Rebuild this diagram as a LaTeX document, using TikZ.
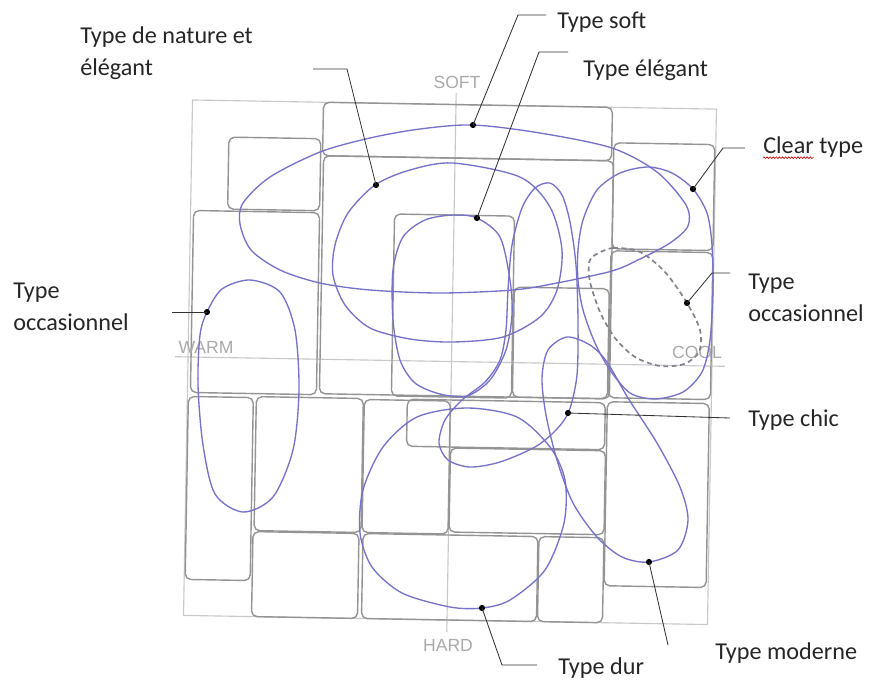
\documentclass[tikz,border=0pt]{standalone}
\usepackage{fontspec}
\setmainfont{Carlito}
\newfontfamily\axisfont{Liberation Sans}
\usetikzlibrary{decorations.pathmorphing}
\definecolor{loopblue}{RGB}{118,114,200}
\definecolor{tilegrey}{RGB}{148,148,148}
\definecolor{framegrey}{RGB}{200,200,200}
\definecolor{axistext}{RGB}{170,170,170}
\definecolor{dashgrey}{RGB}{130,130,142}

\begin{document}
\begin{tikzpicture}[x=0.025cm,y=-0.025cm,
  tile/.style={draw=tilegrey,line width=1pt,rounded corners=4pt},
  bluecurve/.style={draw=loopblue,line width=0.95pt},
  leader/.style={draw=black!80,line width=0.6pt},
  lab/.style={anchor=west,inner sep=0pt,align=left,text=black!85,
    font=\fontsize{17.2}{23}\selectfont},
  axislab/.style={inner sep=0pt,text=axistext,font=\axisfont\fontsize{12.5}{14}\selectfont}]
  \useasboundingbox[fill=white] (0,0) rectangle (871,680);

  % scanned grid, slightly turned
  \begin{scope}[rotate around={-1:(450,362)}]
    \draw[framegrey,line width=0.8pt] (188,104.5) rectangle (712,620);
    \draw[framegrey,line width=0.8pt] (451.5,93) -- (451.5,632);
    \draw[framegrey,line width=0.8pt] (175,361.5) -- (725,361.5);
    \foreach \xa/\ya/\xb/\yb in {319/104.5/608/158, 225/141/317/213, 191/215/317/397,
        320/158/610/396, 392/215/512/397, 513/286/608/396, 610/140/711/246,
        609/248/711/395, 608/399/710/583, 408/400/606/447, 452/448/607/532,
        365/401/451/534, 257/400/364/534, 189/401/254/584, 256/535/362/620,
        366/535/541/620, 542/535/607/620}
      \draw[tile] (\xa,\ya) rectangle (\xb,\yb);
  \end{scope}

  % axis words
  \node[axislab] (soft) at (457,82) {SOFT};
  \node[axislab] (hard) at (448,645) {HARD};
  \node[axislab] (warm) at (206,347) {WARM};
  \node[axislab] (cool) at (697,352) {COOL};

  % big flat loop (soft)
  \draw[bluecurve] plot[smooth cycle] coordinates {(473,125) (540,133) (612,148)
    (657,172) (686,205) (688,226) (670,243) (640,259) (612,271) (557,283) (513,290)
    (440,293) (370,290) (320,283) (280,270) (251,250) (240,224) (243,203) (270,177)
    (320,152) (370,138) (420,129)};
  % nature et elegant
  \draw[bluecurve] plot[smooth cycle] coordinates {(375,185) (410,170) (453,163)
    (520,177) (550,207) (562,250) (557,290) (540,317) (503,337) (453,342) (410,339)
    (370,328) (345,305) (333,275) (335,245) (348,213)};
  % elegant
  \draw[bluecurve] plot[smooth cycle] coordinates {(453,215) (477,218) (500,237)
    (510,280) (512,315) (506,350) (490,380) (467,396) (440,394) (415,383) (400,360)
    (393,320) (393,270) (403,237) (425,220)};
  % occasionnel, left
  \draw[bluecurve] plot[smooth cycle] coordinates {(250,280) (280,292) (295,330)
    (299,390) (293,450) (273,497) (243,512) (215,494) (203,445) (198,385) (200,335)
    (207,312) (222,289)};
  % clear
  \draw[bluecurve] plot[smooth cycle] coordinates {(597,190) (620,173) (648,167)
    (672,173) (693,189) (707,213) (712,245) (713,290) (710,340) (702,372) (683,392)
    (655,399) (630,393) (610,370) (595,343) (583,310) (578,280) (578,250) (583,220)};
  % chic
  \draw[bluecurve] plot[smooth cycle] coordinates {(550,183) (562,195) (570,222)
    (576,265) (578,320) (577,375) (569,411) (556,430) (535,447) (500,462) (470,467)
    (448,460) (439,443) (445,420) (462,400) (485,382) (500,360) (506,330) (508,290)
    (512,245) (522,208) (535,188)};
  % moderne
  \draw[bluecurve] plot[smooth cycle] coordinates {(567,337) (590,345) (607,362)
    (628,398) (657,443) (680,487) (688,520) (678,550) (649,562) (622,557) (597,537)
    (573,503) (557,460) (546,415) (542,378) (548,350)};
  % dur
  \draw[bluecurve] plot[smooth cycle] coordinates {(467,408) (517,417) (550,447)
    (565,480) (564,523) (545,570) (510,600) (482,608) (450,607) (402,593) (372,567)
    (360,533) (363,490) (383,447) (417,417)};
  % occasionnel, right (dashed)
  \draw[dashgrey,line width=1.2pt,dash pattern=on 3.5pt off 2.5pt] plot[smooth cycle]
    coordinates {(595,255) (613,248) (640,252) (665,272) (687,303) (700,330) (699,352)
    (684,364) (660,366) (635,357) (615,338) (600,312) (590,282) (589,263)};

  % points on the loops
  \coordinate (dsoft) at (473,125);
  \coordinate (dnature) at (376,185);
  \coordinate (delegant) at (477,218);
  \coordinate (doccl) at (207,312);
  \coordinate (dclear) at (693,189);
  \coordinate (doccr) at (687,303);
  \coordinate (dchic) at (568,413);
  \coordinate (dmoderne) at (649,562);
  \coordinate (ddur) at (482,608);
  \foreach \d in {dsoft,dnature,delegant,doccl,dclear,doccr,dchic,dmoderne,ddur}
    \fill[black] (\d) circle[radius=2.2pt];

  % labels
  \node[lab] (lsoft) at (557,22) {Type soft};
  \node[lab] (lelegant) at (583,70) {Type élégant};
  \node[lab] (lnature) at (80,53) {Type de nature et\\élégant};
  \node[lab] (lclear) at (763,147) {Clear type};
  \node[lab] (loccr) at (748,298) {Type\\occasionnel};
  \node[lab] (loccl) at (13,307) {Type\\occasionnel};
  \node[lab] (lchic) at (748,420) {Type chic};
  \node[lab] (lmoderne) at (715,653) {Type moderne};
  \node[lab] (ldur) at (558,668) {Type dur};
  \draw[red!75!black,line width=0.45pt,decorate,
    decoration={snake,amplitude=0.6pt,segment length=2.2pt}]
    ([yshift=-3pt]lclear.base west) -- ++(36pt,0);

  % leader lines
  \coordinate (ksoft) at (518,15);   \coordinate (esoft) at (546,15);
  \coordinate (kelegant) at (539,52); \coordinate (eelegant) at (568,52);
  \coordinate (knature) at (347,69); \coordinate (enature) at (313,69);
  \coordinate (kclear) at (723,148); \coordinate (eclear) at (745,148);
  \coordinate (koccr) at (712,273);  \coordinate (eoccr) at (730,273);
  \coordinate (eoccl) at (172,312);
  \coordinate (echic) at (730,418);
  \coordinate (emoderne) at (668,645);
  \coordinate (kdur) at (502,665);   \coordinate (edur) at (537,665);
  \draw[leader] (dsoft) -- (ksoft) -- (esoft);
  \draw[leader] (delegant) -- (kelegant) -- (eelegant);
  \draw[leader] (dnature) -- (knature) -- (enature);
  \draw[leader] (dclear) -- (kclear) -- (eclear);
  \draw[leader] (doccr) -- (koccr) -- (eoccr);
  \draw[leader] (eoccl) -- (doccl);
  \draw[leader] (dchic) -- (echic);
  \draw[leader] (dmoderne) -- (emoderne);
  \draw[leader] (ddur) -- (kdur) -- (edur);
\end{tikzpicture}
\end{document}
